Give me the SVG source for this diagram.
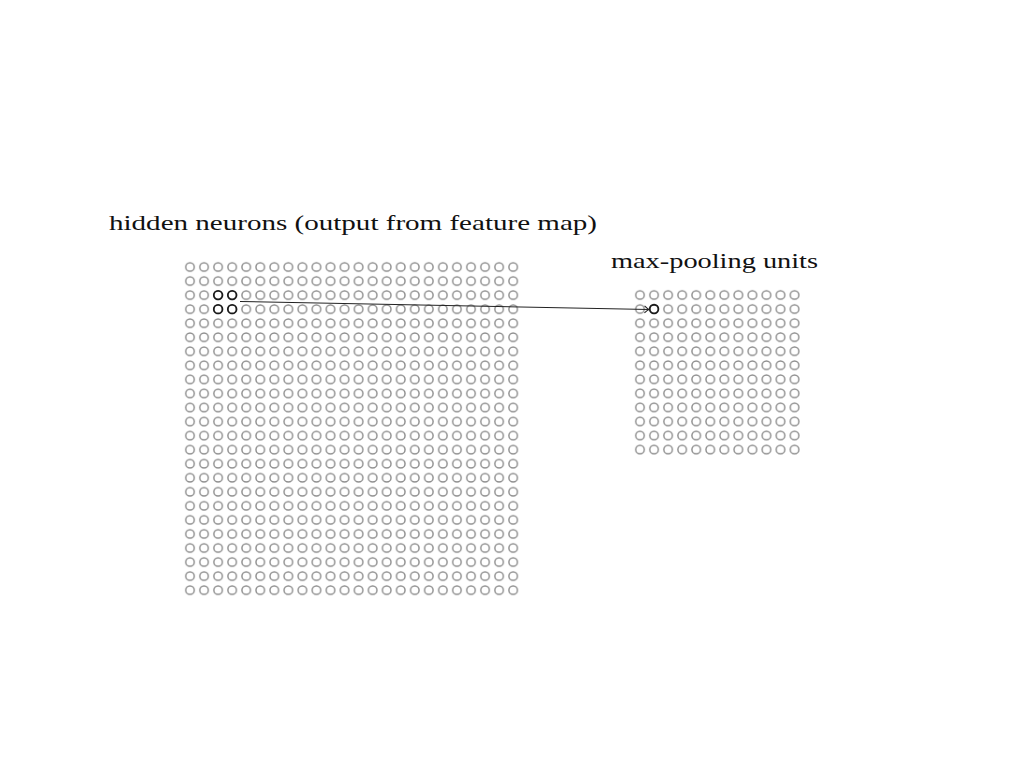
<svg xmlns="http://www.w3.org/2000/svg" width="1024" height="768" viewBox="0 0 1024 768">
  <style>
    .label { font-family: "Liberation Serif", "DejaVu Serif", serif; font-size: 21px; fill: #111; }
    .unit { fill: none; stroke: #8c8c8c; stroke-width: 1.4; }
    .hl { fill: #fff; stroke: #1a1a1a; stroke-width: 1.8; }
    .conn { fill: none; stroke: #222; stroke-width: 1.1; }
  </style>
  <defs>
    <pattern id="gridL" patternUnits="userSpaceOnUse" x="182.975" y="259.975" width="14.05" height="14.05">
      <circle class="unit" cx="7.025" cy="7.025" r="4.3"/>
    </pattern>
    <pattern id="gridR" patternUnits="userSpaceOnUse" x="632.975" y="287.975" width="14.05" height="14.05">
      <circle class="unit" cx="7.025" cy="7.025" r="4.3"/>
    </pattern>
    <marker id="arrow" viewBox="-6 -5 8 10" refX="0" refY="0" markerWidth="8" markerHeight="10" markerUnits="userSpaceOnUse" orient="auto">
      <path d="M -4.5 -3.5 Q -1.5 -0.6 0 0 Q -1.5 0.6 -4.5 3.5" fill="none" stroke="#222" stroke-width="1.1"/>
    </marker>
  </defs>
  <rect width="1024" height="768" fill="#fff"/>

  <g id="hidden-neurons">
    <text class="label" x="109" y="230" textLength="488" lengthAdjust="spacingAndGlyphs">hidden neurons (output from feature map)</text>
    <rect x="182.975" y="259.975" width="337.2" height="337.2" fill="url(#gridL)"/>
    <g id="pool-window">
      <circle class="hl" cx="218.1" cy="295.1" r="4.3"/>
      <circle class="hl" cx="232.15" cy="295.1" r="4.3"/>
      <circle class="hl" cx="218.1" cy="309.15" r="4.3"/>
      <circle class="hl" cx="232.15" cy="309.15" r="4.3"/>
    </g>
  </g>

  <g id="max-pooling-units">
    <text class="label" x="611" y="268" textLength="207" lengthAdjust="spacingAndGlyphs">max-pooling units</text>
    <rect x="632.975" y="287.975" width="168.6" height="168.6" fill="url(#gridR)"/>
    <circle id="pooled-unit" class="hl" cx="654.05" cy="309.05" r="4.3"/>
  </g>

  <g id="connectors">
    <line class="conn" x1="240" y1="301.5" x2="649" y2="309.5" marker-end="url(#arrow)"/>
  </g>
</svg>
